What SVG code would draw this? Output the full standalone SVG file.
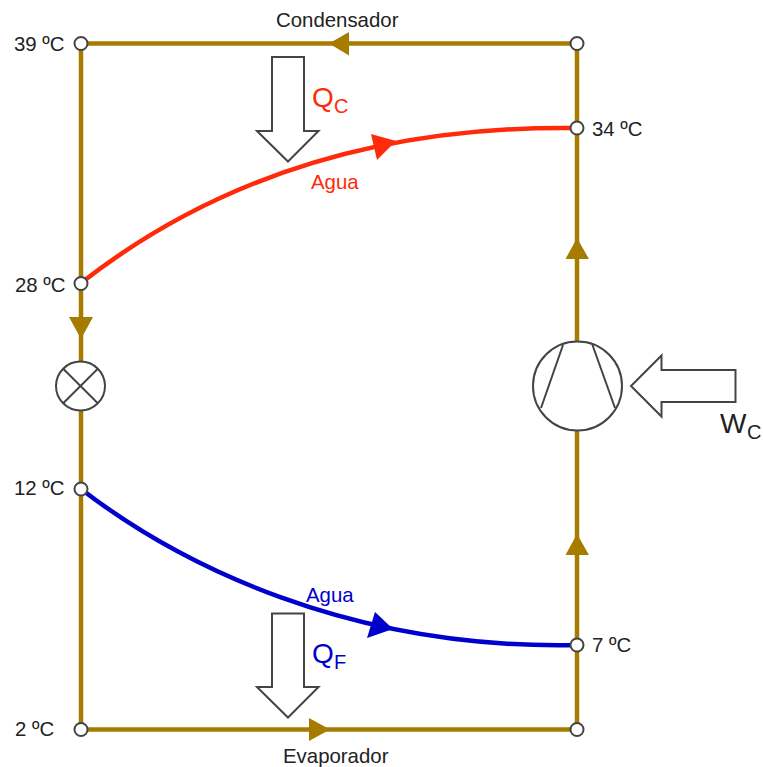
<svg xmlns="http://www.w3.org/2000/svg" width="763" height="767" viewBox="0 0 763 767">
<style>
text{font-family:"Liberation Sans",Arial,sans-serif;fill:#222;font-size:20.4px}
.pipe{fill:none;stroke:#a67c00;stroke-width:4.5}
.ah{fill:#a67c00;stroke:none}
.pt{fill:#fff;stroke:#444;stroke-width:2}
.sym{fill:#fff;stroke:#444;stroke-width:2}
.ln{fill:none;stroke:#444;stroke-width:2}
.big{fill:#fff;stroke:#444;stroke-width:2}
.q{font-size:28px}
.s{font-size:20px}
</style>
<rect width="763" height="767" fill="#fff"/>
<g id="connectors">
<path class="pipe" d="M81 43.500H577V729.500H81Z"/>
<polygon class="ah" points="329,43.500 349,32 349,55.500"/>
<polygon class="ah" points="577,238 565.500,259 589,259"/>
<polygon class="ah" points="577,534 565.500,555 589,555"/>
<polygon class="ah" points="81,339 69,317 93,317"/>
<polygon class="ah" points="330,729.500 309,718 309,741"/>
<path d="M81 283C200 190 360 125 577 128" fill="none" stroke="#ff2a0a" stroke-width="4.500"/>
<polygon points="396,141 371,134 377,160" fill="#ff2a0a"/>
<path d="M81 489C180 565 350 650 577 645" fill="none" stroke="#0000cc" stroke-width="4.500"/>
<polygon points="393,629 375,612 367,638" fill="#0000cc"/>
</g>
<g id="node-39"><circle class="pt" cx="81" cy="43.500" r="6.500"/><text x="14" y="51">39 ºC</text></g>
<g id="node-top-right"><circle class="pt" cx="577" cy="43.500" r="6.500"/></g>
<g id="node-34"><circle class="pt" cx="577" cy="128" r="6.500"/><text x="592" y="136">34 ºC</text></g>
<g id="node-28"><circle class="pt" cx="81" cy="283.500" r="6.500"/><text x="15" y="291.500">28 ºC</text></g>
<g id="node-12"><circle class="pt" cx="81" cy="489" r="6.500"/><text x="14" y="495">12 ºC</text></g>
<g id="node-7"><circle class="pt" cx="577" cy="645" r="6.500"/><text x="592" y="652">7 ºC</text></g>
<g id="node-2"><circle class="pt" cx="81" cy="729.500" r="6.500"/><text x="15" y="736">2 ºC</text></g>
<g id="node-bottom-right"><circle class="pt" cx="577" cy="729.500" r="6.500"/></g>
<g id="valve">
<circle class="sym" cx="80.500" cy="386" r="24.500"/>
<path class="ln" d="M63.200 368.700L97.800 403.300M97.800 368.700L63.200 403.300"/>
</g>
<g id="compressor">
<circle class="sym" cx="577.500" cy="386" r="44.500"/>
<path class="ln" d="M563 345L541 408M592.500 345L615 408"/>
</g>
<g id="arrow-qc">
<path class="big" d="M272 57H304V131H318.500L288 161.500L257 131H272Z"/>
<text class="q" x="312" y="107" style="fill:#ff2a0a">Q</text><text class="s" x="334" y="113" style="fill:#ff2a0a">C</text>
</g>
<g id="arrow-qf">
<path class="big" d="M272 613.500H304V687H318.500L288 717.500L257 687H272Z"/>
<text class="q" x="312" y="663" style="fill:#0000cc">Q</text><text class="s" x="334" y="669" style="fill:#0000cc">F</text>
</g>
<g id="arrow-wc">
<path class="big" d="M735.500 370V402H661.500V416.500L631 386L661.500 355.500V370Z"/>
<text class="q" x="720" y="433">W</text><text class="s" x="747" y="439">C</text>
</g>
<g id="labels">
<text x="276" y="27">Condensador</text>
<text x="283" y="762.500">Evaporador</text>
<text x="311" y="189" style="fill:#ff2a0a">Agua</text>
<text x="306" y="602" style="fill:#0000cc">Agua</text>
</g>
</svg>
